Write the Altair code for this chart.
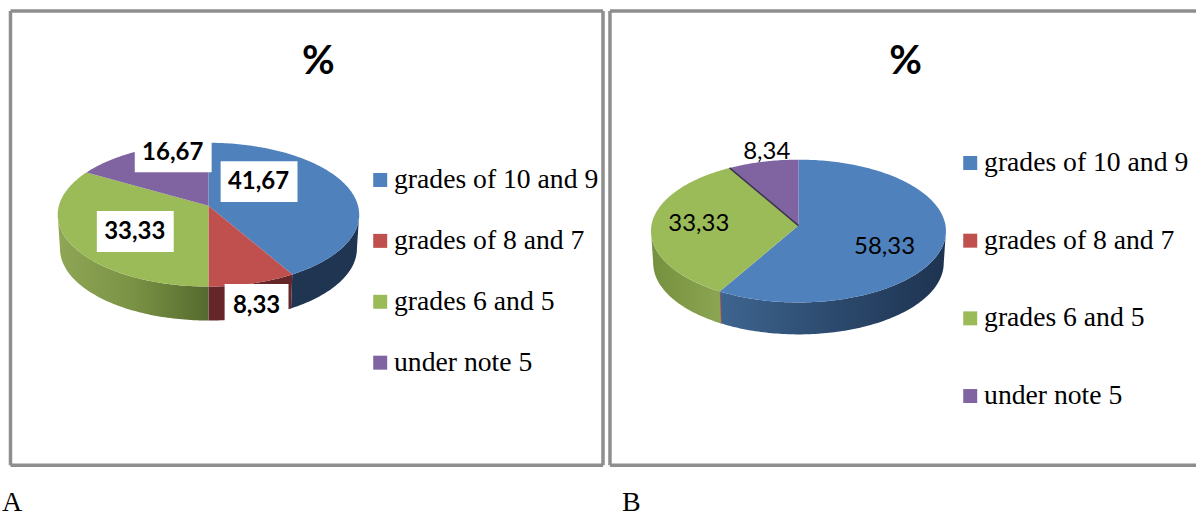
import math
import altair as alt
import pandas as pd

SLICES = ["grades of 10 and 9", "grades of 8 and 7", "grades 6 and 5", "under note 5"]
COLORS = ["#4f81bd", "#c0504d", "#9bbb59", "#8064a2"]
VALUES_A = [41.67, 8.33, 33.33, 16.67]
VALUES_B = [58.33, 0.0, 33.33, 8.34]
PANEL_H = 515
FONT_SANS = "Lato"
FONT_SERIF = "Liberation Serif"
FRAME = "#8e8e8e"


def rim(t, g, lift=0.0, shrink=1.0):
    """Perspective projection of the disc's edge at clockwise angle t (degrees)."""
    u, v = math.sin(math.radians(t)), -math.cos(math.radians(t))
    d = 1 + g["c"] * v
    return g["cx"] + shrink * g["b"] * u / d, g["cy"] + g["a"] * v / d + lift


def arc_points(start, end, g, **kw):
    n = max(1, int(abs(end - start)))
    return [rim(start + (end - start) * i / n, g, **kw) for i in range(n + 1)]


def faces(values, g):
    rows, start = [], 0.0
    for name, val in zip(SLICES, values):
        end = start + val * 3.6
        if val > 0:
            pts = [(g["cx"], g["cy"])] + arc_points(start, end, g)
            rows += [dict(x=x, y=y, slice=name, o=i) for i, (x, y) in enumerate(pts)]
        start = end
    return pd.DataFrame(rows)


def wall(values, index, g):
    t0 = sum(values[:index]) * 3.6
    t1 = t0 + values[index] * 3.6
    lo = math.degrees(math.acos(g["c"]))
    a, b = max(t0, lo), min(t1, 360 - lo)
    if a > b:
        return None
    top = arc_points(a, b, g)
    low = arc_points(a, b, g, lift=g["depth"], shrink=0.985)
    pts = top + low[::-1]
    return pd.DataFrame([dict(x=x, y=y, o=i) for i, (x, y) in enumerate(pts)])


def xy(width):
    return (
        alt.X("x:Q", axis=None, scale=alt.Scale(domain=[0, width], nice=False, zero=False)),
        alt.Y("y:Q", axis=None, scale=alt.Scale(domain=[PANEL_H, 0], nice=False, zero=False)),
    )


def shade(stops):
    return alt.LinearGradient(
        gradient="linear", x1=0, x2=1, y1=0, y2=0,
        stops=[alt.GradientStop(offset=i / (len(stops) - 1), color=c) for i, c in enumerate(stops)],
    )


def label(text, x, y, size, weight="normal", font=FONT_SANS, align="center", baseline="middle"):
    return alt.Chart(pd.DataFrame({"t": [text]})).mark_text(
        font=font, fontSize=size, fontWeight=weight, color="black", align=align, baseline=baseline
    ).encode(x=alt.value(x), y=alt.value(y), text="t:N")


def box(x0, x1, y0, y1):
    return alt.Chart(pd.DataFrame({"k": [0]})).mark_rect(color="white").encode(
        x=alt.value(x0), x2=alt.value(x1), y=alt.value(y0), y2=alt.value(y1)
    )


def edge(x0, x1, y0, y1):
    return alt.Chart(pd.DataFrame({"k": [0]})).mark_rule(color=FRAME, strokeWidth=3.5).encode(
        x=alt.value(x0), x2=alt.value(x1), y=alt.value(y0), y2=alt.value(y1)
    )


def pie(values, g, walls, width, legend_x, legend_y, row_padding):
    X, Y = xy(width)
    layers = []
    for i, stops in walls.items():
        df = wall(values, i, g)
        if df is None:
            continue
        if values[i] == 0:
            mark = alt.Chart(df).mark_line(stroke=COLORS[i], strokeWidth=1.5)
        else:
            mark = alt.Chart(df).mark_line(
                interpolate="linear-closed", fill=shade(stops), strokeOpacity=0
            )
        layers.append(mark.encode(x=X, y=Y, order="o:Q"))
    layers.append(
        alt.Chart(faces(values, g)).mark_line(interpolate="linear-closed", strokeOpacity=0).encode(
            x=X, y=Y, order="o:Q",
            fill=alt.Fill(
                "slice:N",
                scale=alt.Scale(domain=SLICES, range=COLORS),
                legend=alt.Legend(
                    title=None, orient="none", legendX=legend_x, legendY=legend_y,
                    symbolType="square", symbolSize=196, symbolStrokeWidth=0,
                    labelFont=FONT_SERIF, labelFontSize=27.7, labelColor="black",
                    labelLimit=400, labelOffset=0, rowPadding=row_padding,
                    padding=0, symbolOffset=0,
                ),
            ),
        )
    )
    return layers


GEOM_A = dict(cx=208.8, cy=205.6, a=70.9, b=149.8, c=-0.125, depth=34)
GEOM_B = dict(cx=193.8, cy=225.5, a=71.1, b=147.3, c=-0.077, depth=32)
WIDTH_A, WIDTH_B = 606, 592

layers_a = pie(
    VALUES_A, GEOM_A,
    {0: ["#1f3552", "#1f3552"], 1: ["#65262a", "#65262a"], 2: ["#8fa656", "#7a9244", "#556a2f"]},
    WIDTH_A, 367, 166, 32,
)
panel_a = alt.layer(
    edge(10.5, 604, 10.5, 10.5), edge(10.5, 604, 465.5, 465.5),
    edge(10.5, 10.5, 10.5, 465.5), edge(604, 604, 10.5, 465.5),
    *layers_a,
    box(221, 298, 161, 202), box(135, 212, 132, 172), box(97, 174, 211, 252), box(225, 289, 284, 325),
    label("41,67", 259, 182, 24, "bold"), label("16,67", 173, 153, 24, "bold"),
    label("33,33", 135, 232, 24, "bold"), label("8,33", 257, 306, 24, "bold"),
    label("%", 319, 62, 40, "bold"),
    label("A", 2, 511.5, 28, font=FONT_SERIF, align="left", baseline="alphabetic"),
).properties(width=WIDTH_A, height=PANEL_H)

layers_b = pie(
    VALUES_B, GEOM_B,
    {0: ["#3e6590", "#2c4a6e", "#1e3350"], 1: ["#c0504d"], 2: ["#75903e", "#8ca552"]},
    WIDTH_B, 352, 149, 48.8,
)
seam = pd.DataFrame(
    [dict(x=x, y=y, o=i) for i, (x, y) in enumerate([(GEOM_B["cx"], GEOM_B["cy"]), rim(330, GEOM_B)])]
)
X_B, Y_B = xy(WIDTH_B)
panel_b = alt.layer(
    edge(5, WIDTH_B, 10.5, 10.5), edge(5, WIDTH_B, 465.5, 465.5), edge(5, 5, 10.5, 465.5),
    *layers_b,
    alt.Chart(seam).mark_line(color="#3b3350", strokeWidth=1.5).encode(x=X_B, y=Y_B, order="o:Q"),
    label("58,33", 280, 247, 24), label("33,33", 94, 224, 24), label("8,34", 162, 152, 24),
    label("%", 301, 62, 40, "bold"),
    label("B", 17, 511.5, 28, font=FONT_SERIF, align="left", baseline="alphabetic"),
).properties(width=WIDTH_B, height=PANEL_H)

chart = alt.hconcat(panel_a, panel_b, spacing=0, padding=0, bounds="flush").resolve_scale(
    fill="independent", x="independent", y="independent"
).configure(background="white").configure_view(stroke=None)
chart.save("out.html", embed_options={"renderer": "svg", "actions": False})
